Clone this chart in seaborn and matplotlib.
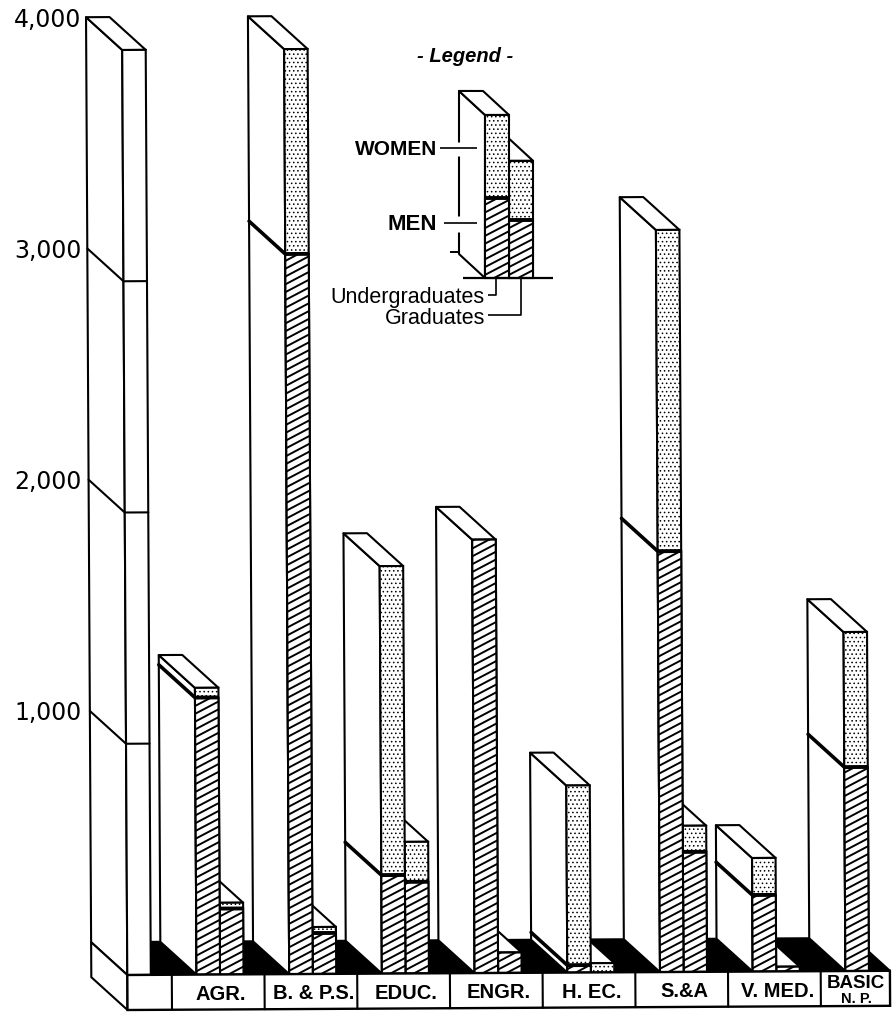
import numpy as np
import pandas as pd
import seaborn as sns
import matplotlib
import matplotlib.pyplot as plt
from matplotlib.collections import LineCollection
from matplotlib.patches import Polygon, Rectangle
from matplotlib.transforms import Affine2D

matplotlib.use('Agg')

# Values (students)
colleges = ['', 'AGR.', 'B. & P.S.', 'EDUC.', 'ENGR.', 'H. EC.', 'S.&A', 'V. MED.', 'BASIC']
undergrad_total = [np.nan, 1240, 4000, 1762, 1874, 809, 3209, 491, 1466]
undergrad_men = [np.nan, 1198, 3114, 426, 1874, 32, 1820, 331, 882]
grad_total = [4000, 310, 203, 569, 88, 40, 632, 20, np.nan]
grad_men = [np.nan, 285, 177, 396, 88, 0, 519, 20, np.nan]
scale_lines = [1000, 2000, 3000]
scale_ticks = [1000, 2000, 3000, 4000]
scale_labels = ['1,000', '2,000', '3,000', '4,000']

# Legend sample bars
legend_total = [705, 507]
legend_men = [345, 251]

# Page geometry
PX_UNIT = 92.7      # pixels per college
PX_COUNT = 0.23125  # pixels per student
X0_PX, BASE_ROW = 127.3, 975
TILT = 0.0055       # the printed page sits slightly rotated
LW = 1.5


def px(x):
    return (x - X0_PX) / PX_UNIT


def row(r):
    return (BASE_ROW - r) / PX_COUNT


DX, DV = 36 / PX_UNIT, 33 / PX_COUNT
STRIP = 35 / PX_COUNT

sns.set_theme(style='white')
plt.rcParams['font.family'] = ['Liberation Sans', 'DejaVu Sans']
plt.rcParams['hatch.linewidth'] = 0.6

levels = ['Undergraduates', 'Graduates']
df = pd.DataFrame({
    'college': colleges * 2,
    'level': [levels[0]] * len(colleges) + [levels[1]] * len(colleges),
    'total': undergrad_total + grad_total,
    'men': undergrad_men + grad_men,
})

fig = plt.figure(figsize=(8.95, 10.15), dpi=100)
ax = fig.add_axes([84 / 895, 0, 811 / 895, 1])

tilt = Affine2D.from_values(1, TILT * PX_UNIT / PX_COUNT, -TILT * PX_COUNT / PX_UNIT, 1, 0, 0)
tilted = tilt + ax.transData


def draw_faces(patch, tr, z, dx=DX, dv=DV):
    # side and top of a box, worked out from the front bar
    x0, w = patch.get_x(), patch.get_width()
    base, top = patch.get_y(), patch.get_y() + patch.get_height()
    side = [(x0, base), (x0, top), (x0 - dx, top + dv), (x0 - dx, base + dv)]
    lid = [(x0, top), (x0 + w, top), (x0 + w - dx, top + dv), (x0 - dx, top + dv)]
    for pts in (side, lid):
        ax.add_patch(Polygon(pts, closed=True, fc='white', ec='black', lw=LW,
                             joinstyle='round', transform=tr, zorder=z))


def draw_hatch(patch, tr, z):
    x0, w = patch.get_x(), patch.get_width()
    base, h = patch.get_y(), patch.get_height()
    step = 7.8 / PX_COUNT
    rise = 0.52 * w * PX_UNIT / PX_COUNT
    segs = [[(x0, base + s), (x0 + w, base + s + rise)] for s in np.arange(-rise, h, step)]
    lc = LineCollection(segs, colors='black', linewidths=1.4, transform=tr, zorder=z)
    ax.add_collection(lc, autolim=False)
    lc.set_clip_path(patch.get_path(), patch.get_transform())


def draw_division(patch, tr, z, dx=DX, dv=DV, with_side=True):
    x0, w = patch.get_x(), patch.get_width()
    top = patch.get_y() + patch.get_height()
    ax.plot([x0, x0 + w], [top, top], color='black', lw=2.8, transform=tr, zorder=z,
            solid_capstyle='butt')
    if with_side:
        ax.plot([x0, x0 - dx], [top, top + dv], color='black', lw=2.6, transform=tr, zorder=z,
                solid_capstyle='round')


bar_style = dict(order=colleges, hue='level', hue_order=levels, dodge=True, width=0.507, gap=0,
                 palette=['white', 'white'], saturation=1, edgecolor='black', linewidth=LW,
                 legend=False, errorbar=None, ax=ax)

sns.barplot(data=df, x='college', y='total', **bar_style)
n_total = len(ax.patches)
sns.barplot(data=df, x='college', y='men', **bar_style)
total_bars = list(ax.patches[:n_total])
men_bars = list(ax.patches[n_total:])

totals_by_x = {}
for bar in total_bars:
    h = bar.get_height()
    if not np.isfinite(h) or h <= 0:
        bar.set_visible(False)
        continue
    centre = bar.get_x() + bar.get_width() / 2
    is_scale = abs(centre) < 0.4
    is_grad = centre > round(centre) and not is_scale
    z = 2 if is_grad else 4
    bar.set_transform(tilted)
    bar.set_zorder(z + 1)
    if not is_scale:
        bar.set_hatch('....')
    draw_faces(bar, tilted, z)
    totals_by_x[round(centre, 3)] = h

for bar in men_bars:
    h = bar.get_height()
    if not np.isfinite(h) or h <= 0:
        bar.set_visible(False)
        continue
    centre = bar.get_x() + bar.get_width() / 2
    is_grad = centre > round(centre)
    z = 3.2 if is_grad else 5.2
    bar.set_transform(tilted)
    bar.set_zorder(z)
    draw_hatch(bar, tilted, z + 0.1)
    if h < totals_by_x[round(centre, 3)]:
        draw_division(bar, tilted, z + 0.2, with_side=not is_grad)

# scale column lines
scale_x, scale_w = 0, 0.2535
for v in scale_lines:
    ax.plot([scale_x - DX, scale_x, scale_x + scale_w], [v + DV, v, v], color='black', lw=LW,
            transform=tilted, zorder=6)

# floor and label strip
x_end = 8 + 21 / PX_UNIT
ax.add_patch(Polygon([(0, 0), (x_end, 0), (x_end - DX, DV), (-DX, DV)], closed=True, fc='black',
                     ec='black', lw=LW, transform=tilted, zorder=1))
ax.add_patch(Polygon([(0, 0), (0, -STRIP), (-DX, DV - STRIP), (-DX, DV)], closed=True, fc='white',
                     ec='black', lw=LW, transform=tilted, zorder=6))
ax.add_patch(Rectangle((0, -STRIP), x_end, STRIP, fc='white', ec='black', lw=LW + 0.2,
                       transform=tilted, zorder=6))
for i in range(1, 9):
    ax.plot([i - 0.52, i - 0.52], [-STRIP, 0], color='black', lw=LW, transform=tilted, zorder=7)

for i, name in enumerate(colleges[1:-1], start=1):
    ax.text(i + 0.01, -85, name, ha='center', va='center', fontsize=14.5, fontweight='bold',
            color='black', transform=tilted, zorder=8)
ax.text(7.86, -55, 'BASIC', ha='center', va='center', fontsize=13.5, fontweight='bold',
        color='black', transform=tilted, zorder=8)
ax.text(7.86, -120, 'N. P.', ha='center', va='center', fontsize=10.5, fontweight='bold',
        color='black', transform=tilted, zorder=8)

# legend sample
leg_base = row(278)
leg_dx, leg_dv = 26 / PX_UNIT, 24 / PX_COUNT
leg_w = 24 / PX_UNIT
leg_x = [px(485), px(509)]
plain = ax.transData
leg_tot = ax.bar(leg_x, legend_total, width=leg_w, bottom=leg_base, align='edge', fc='white',
                 ec='black', lw=LW, hatch='....', zorder=3)
leg_men = ax.bar(leg_x, legend_men, width=leg_w, bottom=leg_base, align='edge', fc='white',
                 ec='black', lw=LW, zorder=3.2)
for j, (t, m) in enumerate(zip(leg_tot, leg_men)):
    z = 4 if j == 0 else 2
    t.set_zorder(z + 1)
    m.set_zorder(z + 1.2)
    draw_faces(t, plain, z, leg_dx, leg_dv)
    draw_hatch(m, plain, z + 1.3)
    draw_division(m, plain, z + 1.4, leg_dx, leg_dv, with_side=False)


def page_line(xs, rows, lw=1.2, color='black', z=7):
    ax.plot([px(x) for x in xs], [row(r) for r in rows], color=color, lw=lw, zorder=z,
            solid_capstyle='butt')


# breaks in the legend's back line, with the leader ticks through them
page_line([459, 459], [142, 156], lw=3.5, color='white')
page_line([459, 459], [216, 232], lw=3.5, color='white')
page_line([440, 477], [148, 148])
page_line([444, 477], [223, 223])
page_line([450, 459], [252, 252], lw=1.4)
page_line([463, 553], [278, 278], lw=1.6)
page_line([496, 496, 488], [278, 295, 295])
page_line([521, 521, 488], [278, 315, 315])

ax.text(px(437), row(149), 'WOMEN', ha='right', va='center', fontsize=15, fontweight='bold', color='black')
ax.text(px(437), row(224), 'MEN', ha='right', va='center', fontsize=16, fontweight='bold', color='black')
ax.text(px(485), row(297), 'Undergraduates', ha='right', va='center', fontsize=15.5, color='black')
ax.text(px(485), row(318), 'Graduates', ha='right', va='center', fontsize=15.5, color='black')
ax.text(px(465), row(56), '- Legend -', ha='center', va='center', fontsize=14.5, fontweight='bold',
        fontstyle='italic', color='black')

ax.set_xlim(px(84), px(895))
ax.set_ylim(row(1015), row(0))
ax.set_xticks([])
ax.set_yticks([v + DV for v in scale_ticks], scale_labels, fontsize=17, family='DejaVu Sans', color='black')
ax.tick_params(axis='y', length=0, pad=2)
ax.set(xlabel='', ylabel='')
sns.despine(ax=ax, left=True, bottom=True)
ax.grid(False)

fig.savefig('out.png', dpi=100, facecolor='white')
plt.close(fig)
